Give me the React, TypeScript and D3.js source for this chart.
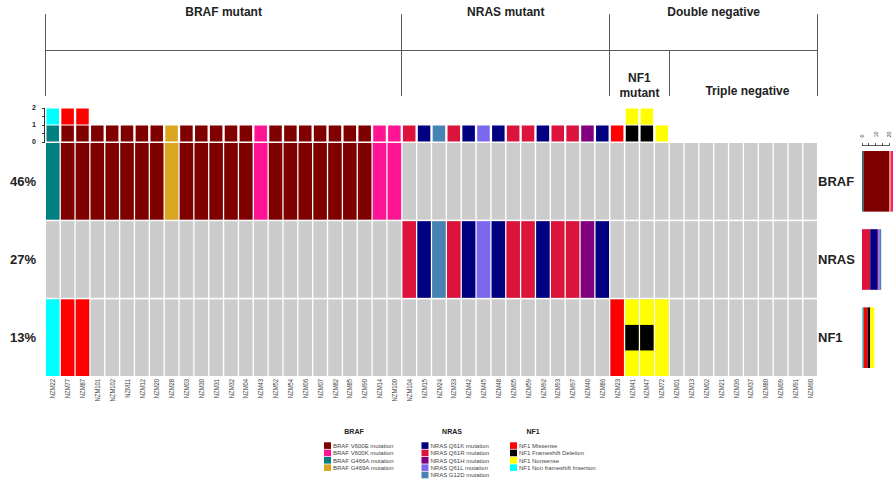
import React from "react";
import * as d3 from "d3";

// Samples in display order
const samples = [
  "NZM22", "NZM77", "NZM87", "NZM101", "NZM102", "NZM11", "NZM12", "NZM20", "NZM28", "NZM03",
  "NZM30", "NZM31", "NZM32", "NZM04", "NZM43", "NZM52", "NZM54", "NZM06", "NZM07", "NZM82",
  "NZM85", "NZM90", "NZM14", "NZM100", "NZM104", "NZM15", "NZM24", "NZM33", "NZM42", "NZM45",
  "NZM48", "NZM05", "NZM59", "NZM92", "NZM93", "NZM97", "NZM40", "NZM86", "NZM23", "NZM41",
  "NZM47", "NZM72", "NZM01", "NZM13", "NZM02", "NZM21", "NZM36", "NZM37", "NZM80", "NZM09",
  "NZM91", "NZM60",
];

const genes = ["BRAF", "NRAS", "NF1"];

// [sample, alteration]
const brafAlterations: [string, string][] = [
  ["NZM22", "G466A"], ["NZM77", "V600E"], ["NZM87", "V600E"], ["NZM101", "V600E"],
  ["NZM102", "V600E"], ["NZM11", "V600E"], ["NZM12", "V600E"], ["NZM20", "V600E"],
  ["NZM28", "G469A"], ["NZM03", "V600E"], ["NZM30", "V600E"], ["NZM31", "V600E"],
  ["NZM32", "V600E"], ["NZM04", "V600E"], ["NZM43", "V600K"], ["NZM52", "V600E"],
  ["NZM54", "V600E"], ["NZM06", "V600E"], ["NZM07", "V600E"], ["NZM82", "V600E"],
  ["NZM85", "V600E"], ["NZM90", "V600E"], ["NZM14", "V600K"], ["NZM100", "V600K"],
];

const nrasAlterations: [string, string][] = [
  ["NZM104", "Q61R"], ["NZM15", "Q61K"], ["NZM24", "G12D"], ["NZM33", "Q61R"],
  ["NZM42", "Q61K"], ["NZM45", "Q61L"], ["NZM48", "Q61K"], ["NZM05", "Q61R"],
  ["NZM59", "Q61R"], ["NZM92", "Q61K"], ["NZM93", "Q61R"], ["NZM97", "Q61R"],
  ["NZM40", "Q61H"], ["NZM86", "Q61K"],
];

const nf1Alterations: [string, string][] = [
  ["NZM22", "Non frameshift Insertion"], ["NZM77", "Missense"], ["NZM87", "Missense"],
  ["NZM23", "Missense"], ["NZM41", "Frameshift Deletion"], ["NZM41", "Nonsense"],
  ["NZM47", "Frameshift Deletion"], ["NZM47", "Nonsense"], ["NZM72", "Nonsense"],
];

// Legend entries and colours
const brafTypes = ["V600E", "V600K", "G466A", "G469A"];
const brafColors = ["#800000", "#FF1493", "#008080", "#DAA520"];
const nrasTypes = ["Q61K", "Q61R", "Q61H", "Q61L", "G12D"];
const nrasColors = ["#000080", "#DC143C", "#800080", "#7B68EE", "#4682B4"];
const nf1Types = ["Missense", "Frameshift Deletion", "Nonsense", "Non frameshift Insertion"];
const nf1Colors = ["#FF0000", "#000000", "#FFFF00", "#00FFFF"];

// Stacking order of the per-gene count bars
const brafBarOrder = ["G466A", "V600E", "G469A", "V600K"];
const nrasBarOrder = ["Q61R", "Q61K", "Q61H", "Q61L", "G12D"];
const nf1BarOrder = ["Non frameshift Insertion", "Missense", "Frameshift Deletion", "Nonsense"];

// Sample groups
const groupLabels = ["BRAF mutant", "NRAS mutant", "Double negative"];
const groupStarts = ["NZM22", "NZM104", "NZM23"];
const subgroupLabels = [["NF1", "mutant"], ["Triple negative"]];
const subgroupStarts = ["NZM23", "NZM01"];

const countTicks = [0, 0.5, 1, 1.5, 2];
const countLabels = [0, 1, 2];
const geneTicks = [0, 5, 10, 15, 20];
const geneTickLabels = [0, 10, 20];

const W = 893;
const H = 481;
const FONT = "'Liberation Sans', Arial, sans-serif";

export default function App() {
  const x = d3.scaleBand<string>().domain(samples).range([46, 817]).paddingInner(0.09);
  const bw = x.bandwidth();
  const gap = x.step() - bw;
  const y = d3.scaleBand<string>().domain(genes).range([143, 376]).paddingInner(0.02);
  const yCount = d3.scaleLinear().domain([0, 2]).range([142, 108]);
  const xGene = d3.scaleLinear().domain([0, 20]).range([862, 889.4]);

  const colorOf = (gene: string, type: string) => {
    if (gene === "BRAF") return brafColors[brafTypes.indexOf(type)];
    if (gene === "NRAS") return nrasColors[nrasTypes.indexOf(type)];
    return nf1Colors[nf1Types.indexOf(type)];
  };

  const altByGene: Record<string, [string, string][]> = {
    BRAF: brafAlterations,
    NRAS: nrasAlterations,
    NF1: nf1Alterations,
  };
  const barOrder: Record<string, string[]> = {
    BRAF: brafBarOrder,
    NRAS: nrasBarOrder,
    NF1: nf1BarOrder,
  };

  const boundary = (s: string) => (x(s) as number) - gap / 2;
  const endBoundary = (x(samples[samples.length - 1]) as number) + bw + gap / 2;

  const groupEnds = groupStarts.map((s, i) =>
    i + 1 < groupStarts.length ? boundary(groupStarts[i + 1]) : endBoundary
  );
  const subEnds = subgroupStarts.map((s, i) =>
    i + 1 < subgroupStarts.length ? boundary(subgroupStarts[i + 1]) : endBoundary
  );

  // Per-sample stacks for the top count bars
  const stacks = samples.map((s) => {
    const list: string[] = [];
    genes.forEach((g) => {
      altByGene[g].filter((a) => a[0] === s).forEach((a) => list.push(colorOf(g, a[1])));
    });
    return list;
  });

  const lineColor = "#5a5a5a";

  const legends = [
    { title: "BRAF", gene: "BRAF", types: brafTypes, sq: 324, head: 354, label: (t: string) => `BRAF ${t} mutation` },
    { title: "NRAS", gene: "NRAS", types: nrasTypes, sq: 421.5, head: 452, label: (t: string) => `NRAS ${t} mutation` },
    { title: "NF1", gene: "NF1", types: nf1Types, sq: 510, head: 533, label: (t: string) => `NF1 ${t}` },
  ];

  return (
    <svg
      width={W}
      height={H}
      style={{ position: "absolute", left: 0, top: 0, background: "#fff" }}
      fontFamily={FONT}
    >
      {/* group header brackets */}
      <g stroke={lineColor} strokeWidth={1} shapeRendering="crispEdges">
        {groupStarts.map((s) => (
          <line key={s} x1={boundary(s)} x2={boundary(s)} y1={14} y2={96} />
        ))}
        <line x1={endBoundary} x2={endBoundary} y1={14} y2={96} />
        <line x1={boundary(groupStarts[0])} x2={endBoundary} y1={50.5} y2={50.5} />
        {subgroupStarts.slice(1).map((s) => (
          <line key={s} x1={boundary(s)} x2={boundary(s)} y1={50} y2={96} />
        ))}
      </g>
      {groupLabels.map((g, i) => (
        <text
          key={g}
          x={(boundary(groupStarts[i]) + groupEnds[i]) / 2}
          y={16}
          textAnchor="middle"
          fontWeight="bold"
          fontSize={12}
          fill="#222"
        >
          {g}
        </text>
      ))}
      {subgroupLabels.map((lines, i) => {
        const cx = (boundary(subgroupStarts[i]) + subEnds[i]) / 2;
        return lines.map((t, j) => (
          <text
            key={t}
            x={cx + (lines.length === 1 ? 4 : 0)}
            y={lines.length === 1 ? 95 : 81.5 + j * 15}
            textAnchor="middle"
            fontWeight="bold"
            fontSize={12}
            fill="#222"
          >
            {t}
          </text>
        ));
      })}

      {/* count axis for stacked alteration bars */}
      <g stroke="#333" strokeWidth={1} shapeRendering="crispEdges">
        <line x1={44.5} x2={44.5} y1={yCount(2)} y2={yCount(0)} />
        {countTicks.map((t) => (
          <line key={t} x1={42} x2={44.5} y1={yCount(t)} y2={yCount(t)} />
        ))}
      </g>
      {countLabels.map((t) => (
        <text key={t} x={36} y={yCount(t)} dy="0.35em" textAnchor="end" fontSize={7} fontWeight="bold" fill="#222">
          {t}
        </text>
      ))}
      {stacks.map((list, i) =>
        list.map((c, k) => (
          <rect
            key={`${samples[i]}-${k}`}
            x={(x(samples[i]) as number) + 0.5}
            y={yCount(k + 1) + 0.5}
            width={bw - 1}
            height={yCount(k) - yCount(k + 1) - 1}
            fill={c}
          />
        ))
      )}

      {/* oncoprint grid */}
      {genes.map((g) =>
        samples.map((s) => (
          <rect key={`${g}-${s}`} x={x(s)} y={y(g)} width={bw} height={y.bandwidth()} fill="#CCCCCC" />
        ))
      )}
      {genes.map((g) =>
        samples.map((s) => {
          const alts = altByGene[g].filter((a) => a[0] === s);
          if (!alts.length) return null;
          const full = alts[alts.length - 1];
          const inner = alts.slice(0, -1);
          const rh = y.bandwidth();
          return (
            <g key={`a-${g}-${s}`}>
              <rect x={x(s)} y={y(g)} width={bw} height={rh} fill={colorOf(g, full[1])} />
              {inner.map((a) => (
                <rect
                  key={a[1]}
                  x={x(s)}
                  y={(y(g) as number) + rh / 3}
                  width={bw}
                  height={rh / 3}
                  fill={colorOf(g, a[1])}
                />
              ))}
            </g>
          );
        })
      )}

      {/* gene percentages and names */}
      {genes.map((g) => {
        const altered = new Set(altByGene[g].map((a) => a[0])).size;
        const cy = (y(g) as number) + y.bandwidth() / 2;
        return (
          <g key={`lab-${g}`}>
            <text x={36} y={cy} dy="0.35em" textAnchor="end" fontSize={13} fontWeight="bold" fill="#222">
              {`${Math.round((altered / samples.length) * 100)}%`}
            </text>
            <text x={818} y={cy} dy="0.35em" fontSize={13} fontWeight="bold" fill="#222">
              {g}
            </text>
          </g>
        );
      })}

      {/* per-gene alteration counts */}
      <g stroke="#333" strokeWidth={0.8} shapeRendering="crispEdges">
        <line x1={xGene(0)} x2={xGene(20)} y1={145.5} y2={145.5} />
        {geneTicks.map((t) => (
          <line key={t} x1={xGene(t)} x2={xGene(t)} y1={143} y2={145.5} />
        ))}
      </g>
      {geneTickLabels.map((t) => (
        <text
          key={t}
          transform={`translate(${xGene(t)},137.5) rotate(-90)`}
          dy="0.35em"
          fontSize={5.5}
          fill="#333"
        >
          {t}
        </text>
      ))}
      {genes.map((g) => {
        let acc = 0;
        const top = (y(g) as number) + 8;
        const h = y.bandwidth() - 16;
        return barOrder[g].map((t) => {
          const n = altByGene[g].filter((a) => a[1] === t).length;
          const x0 = xGene(acc);
          acc += n;
          if (!n) return null;
          return <rect key={`${g}-${t}`} x={x0} y={top} width={xGene(acc) - x0} height={h} fill={colorOf(g, t)} />;
        });
      })}

      {/* sample labels, condensed along the reading direction */}
      {samples.map((s) => (
        <text
          key={`s-${s}`}
          transform={`translate(${(x(s) as number) + bw / 2},379) rotate(-90) scale(0.78,1)`}
          dy="0.35em"
          textAnchor="end"
          fontSize={7.5}
          fill="#444"
        >
          {s}
        </text>
      ))}

      {/* legend */}
      {legends.map((L) => (
        <g key={L.title}>
          <text x={L.head} y={434} textAnchor="middle" fontSize={7} fontWeight="bold" fill="#222">
            {L.title}
          </text>
          {L.types.map((t, i) => (
            <g key={t}>
              <rect x={L.sq} y={442.3 + i * 7.35} width={7} height={6.6} fill={colorOf(L.gene, t)} />
              <text x={L.sq + 9} y={445.7 + i * 7.35} dy="0.35em" fontSize={6} fill="#444">
                {L.label(t)}
              </text>
            </g>
          ))}
        </g>
      ))}
    </svg>
  );
}
